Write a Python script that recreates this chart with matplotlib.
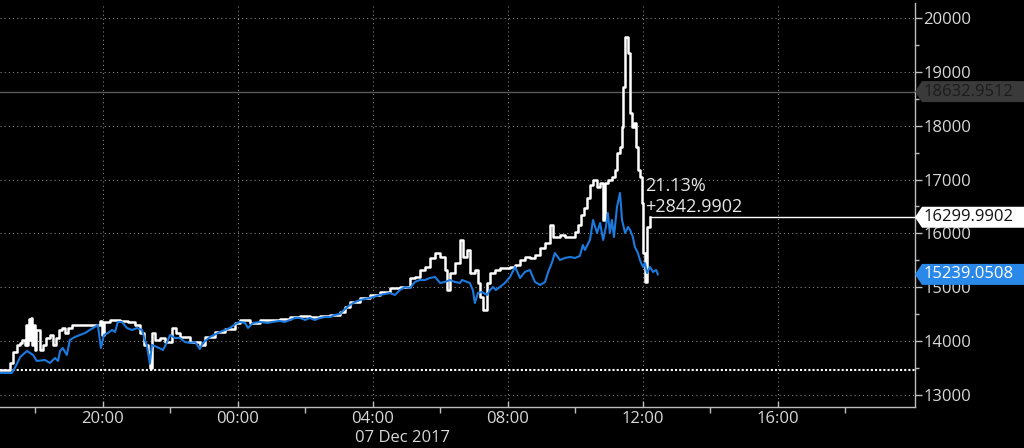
import matplotlib
matplotlib.use('Agg')
import matplotlib.pyplot as plt
from matplotlib.patches import Polygon
from matplotlib.transforms import IdentityTransform

plt.rcParams['font.family'] = ['Open Sans', 'DejaVu Sans']

# time in hours relative to 07 Dec 2017 00:00 (negative = 06 Dec)
price_t = [-7.05, -6.82, -6.76, -6.67, -6.55, -6.45, -6.40, -6.31, -6.28, -6.25, -6.22, -6.19, -6.16,
           -6.13, -6.10, -6.07, -6.04, -6.01, -5.99, -5.87, -5.78, -5.69, -5.57, -5.48, -5.39, -5.30,
           -5.22, -5.13, -5.04, -4.92, -4.09, -4.03, -3.97, -3.79, -3.50, -3.26, -3.05, -2.90, -2.79,
           -2.67, -2.61, -2.55, -2.46, -2.31, -2.16, -1.96, -1.84, -1.72, -1.42, -1.13, -0.98, -0.68,
           -0.39, -0.09, 0.06, 0.36, 0.65, 0.95, 1.24, 1.54, 1.84, 2.13, 2.43, 2.73, 3.02, 3.17, 3.32,
           3.62, 3.91, 4.21, 4.50, 4.80, 5.10, 5.24, 5.39, 5.54, 5.69, 5.84, 5.99, 6.13, 6.19, 6.28,
           6.43, 6.58, 6.67, 6.79, 6.87, 7.02, 7.11, 7.17, 7.26, 7.38, 7.47, 7.62, 7.76, 7.91, 8.06,
           8.21, 8.36, 8.50, 8.65, 8.80, 8.95, 9.10, 9.24, 9.33, 9.54, 9.69, 9.84, 9.99, 10.07, 10.16,
           10.25, 10.34, 10.43, 10.52, 10.64, 10.73, 10.82, 10.87, 10.96, 11.08, 11.17, 11.23, 11.32,
           11.38, 11.41, 11.47, 11.56, 11.62, 11.67, 11.73, 11.79, 11.85, 11.91, 11.97, 12.00, 12.06,
           12.12, 12.21]
price_v = [13457, 13457, 13594, 13799, 13929, 13966, 14021, 13929, 14300, 13929, 14207, 14411, 14021,
           14430, 13929, 14114, 14300, 13836, 14207, 13836, 13929, 14059, 14114, 13929, 14059, 14207,
           14244, 14151, 14244, 14300, 14374, 14114, 14356, 14393, 14374, 14356, 14300, 14151, 13929,
           13799, 13502, 14151, 14021, 14059, 13984, 14244, 14151, 14077, 13984, 13929, 14077, 14170,
           14226, 14337, 14393, 14337, 14393, 14393, 14411, 14448, 14467, 14448, 14467, 14486, 14541,
           14634, 14727, 14801, 14857, 14913, 14987, 15005, 15173, 15191, 15321, 15377, 15544, 15637,
           15562, 15321, 14950, 15265, 15451, 15878, 15562, 15692, 15265, 15321, 15080, 14820, 14580,
           15080, 15265, 15321, 15358, 15358, 15377, 15414, 15507, 15562, 15544, 15600, 15730, 15822,
           16157, 15934, 15971, 15934, 15934, 16027, 16157, 16342, 16472, 16658, 16899, 16992, 16862,
           16936, 16249, 16936, 16992, 17048, 17178, 17493, 17605, 17976, 18719, 19647, 19350, 18236,
           17976, 18050, 17605, 17178, 17048, 16565, 15637, 15098, 16119, 16300]

avg_t = [-7.05, -6.70, -6.61, -6.45, -6.25, -6.07, -5.96, -5.72, -5.57, -5.42, -5.33, -5.27, -5.19,
         -5.07, -4.98, -4.83, -4.68, -4.53, -4.39, -4.24, -4.15, -4.06, -3.97, -3.85, -3.73, -3.64,
         -3.56, -3.44, -3.29, -3.14, -2.99, -2.84, -2.76, -2.70, -2.61, -2.55, -2.40, -2.22, -2.10,
         -2.01, -1.87, -1.72, -1.57, -1.42, -1.27, -1.13, -1.04, -0.83, -0.53, -0.24, -0.03, 0.06,
         0.21, 0.30, 0.44, 0.65, 0.89, 1.01, 1.24, 1.39, 1.54, 1.69, 1.84, 1.99, 2.13, 2.28, 2.43,
         2.58, 2.73, 2.87, 3.02, 3.17, 3.32, 3.47, 3.62, 3.91, 4.21, 4.50, 4.65, 4.80, 4.95, 5.10,
         5.24, 5.39, 5.54, 5.69, 5.84, 5.99, 6.13, 6.28, 6.43, 6.58, 6.64, 6.79, 6.87, 6.96, 7.02,
         7.11, 7.23, 7.38, 7.47, 7.56, 7.64, 7.76, 7.91, 8.06, 8.21, 8.36, 8.50, 8.65, 8.80, 8.95,
         9.10, 9.19, 9.30, 9.39, 9.54, 9.69, 9.84, 9.99, 10.13, 10.22, 10.28, 10.43, 10.52, 10.64,
         10.73, 10.82, 10.90, 10.96, 11.02, 11.08, 11.14, 11.23, 11.32, 11.38, 11.47, 11.56, 11.62,
         11.70, 11.76, 11.85, 11.91, 12.00, 12.06, 12.12, 12.21, 12.30, 12.39, 12.44]
avg_v = [13409, 13409, 13502, 13706, 13817, 13743, 13632, 13650, 13594, 13687, 13632, 13817, 13873,
         13743, 14021, 14077, 14114, 14151, 14207, 14263, 14300, 13873, 14114, 14151, 14207, 14170,
         14356, 14356, 14244, 14207, 14244, 14207, 14021, 13929, 13580, 13929, 13891, 13836, 13984,
         14114, 14059, 14059, 13984, 13966, 13984, 13854, 13966, 14077, 14170, 14244, 14337, 14356,
         14337, 14244, 14337, 14356, 14337, 14356, 14374, 14356, 14393, 14430, 14430, 14393, 14430,
         14393, 14430, 14448, 14448, 14486, 14504, 14597, 14671, 14727, 14764, 14801, 14857, 14894,
         14857, 14950, 15005, 14987, 15098, 15135, 15135, 15173, 15191, 15080, 15098, 15135, 15098,
         15080, 15135, 15098, 15080, 14950, 14708, 14894, 14913, 14857, 14950, 15005, 14950, 15005,
         15080, 15191, 15377, 15173, 15284, 15321, 15098, 15043, 15098, 15284, 15451, 15637, 15507,
         15544, 15562, 15544, 15581, 15785, 15692, 15878, 16249, 16008, 16194, 15878, 16119, 16379,
         16008, 16249, 15934, 16491, 16751, 16249, 16008, 16119, 16064, 15934, 15748, 15637, 15507,
         15377, 15451, 15265, 15377, 15284, 15321, 15239]

open_level = 13457.0
last_price = 16299.9902
last_avg = 15239.0508
high_level = 18632.9512
change_pct = "21.13%"
change_abs = "+2842.9902"

x_ticks = [-4, 0, 4, 8, 12, 16]
x_minor = [-6, -2, 2, 6, 10, 14, 18]
x_labels = ['20:00', '00:00', '04:00', '08:00', '12:00', '16:00']
y_ticks = [13000, 14000, 15000, 16000, 17000, 18000, 19000, 20000]
y_minor = [13500, 14500, 15500, 16500, 17500, 18500, 19500]
date_label = '07 Dec 2017'

W, H = 1024, 448
fig = plt.figure(figsize=(W / 100, H / 100), dpi=100, facecolor='black')
ax = fig.add_axes([0, 1 - 407 / H, 915 / W, 404 / H])
ax.set_facecolor('black')

for s in ['left', 'top']:
    ax.spines[s].set_visible(False)
for s in ['right', 'bottom']:
    ax.spines[s].set_color('#bdbdbd')
    ax.spines[s].set_linewidth(1.0)

ax.yaxis.tick_right()
ax.set_yticks(y_ticks)
ax.set_yticklabels([str(v) for v in y_ticks])
ax.set_yticks(y_minor, minor=True)
ax.set_xticks(x_ticks)
ax.set_xticklabels(x_labels)
ax.set_xticks(x_minor, minor=True)
ax.set_xlim(-7.05, 20.06)
ax.set_ylim(12777, 20278)

ax.tick_params(axis='y', which='major', length=5, width=1, color='#bdbdbd',
               labelcolor='#d8d8d8', labelsize=12, pad=1, direction='out')
ax.tick_params(axis='y', which='minor', length=3, width=1, color='#bdbdbd', direction='out')
ax.tick_params(axis='x', which='major', length=4, width=1, color='#bdbdbd',
               labelcolor='#d8d8d8', labelsize=12, pad=3, direction='in')
ax.tick_params(axis='x', which='minor', length=4, width=1, color='#bdbdbd', direction='out')

ax.grid(which='major', color='#8a8a8a', linestyle=(0, (1, 3)), linewidth=0.75)

# reference / level lines
ax.axhline(open_level, color='white', linestyle=(0, (1, 1)), linewidth=1.5, zorder=2)
ax.axhline(high_level, color='#5a5a5a', linewidth=1.0, zorder=2)

ax.plot(price_t, price_v, color='white', linewidth=1.8, drawstyle='steps-post', zorder=3)
ax.plot(avg_t, avg_v, color='#1c7ade', linewidth=1.5, zorder=4)
ax.hlines(last_price, price_t[-1], ax.get_xlim()[1], color='white', linewidth=1.0, zorder=3)

fig.text(645 / W, 1 - 186 / H, change_pct, color='#e6e6e6', fontsize=13, ha='left', va='center')
fig.text(645 / W, 1 - 207 / H, change_abs, color='#e6e6e6', fontsize=13, ha='left', va='center')

fig.text(355 / W, 1 - 438 / H, date_label, color='#d8d8d8', fontsize=12, ha='left', va='center')


def tag(value, face, tcolor, text):
    fig.canvas.draw()
    y = ax.transData.transform((0, value))[1]
    x0 = ax.transAxes.transform((1, 0))[0]
    h = 10.5
    pts = [(x0, y), (x0 + 7, y + h), (W + 5, y + h), (W + 5, y - h), (x0 + 7, y - h)]
    poly = Polygon(pts, closed=True, facecolor=face, edgecolor='none',
                   transform=IdentityTransform(), zorder=5)
    fig.add_artist(poly)
    fig.text((x0 + 9) / W, y / H, text, color=tcolor, fontsize=12, ha='left', va='center', zorder=6)


tag(high_level, '#3a3a3a', '#1c1c1c', '18632.9512')
tag(last_price, 'white', '#111111', '16299.9902')
tag(last_avg, '#2a88e8', 'white', '15239.0508')

fig.savefig('out.png', dpi=100, facecolor='black')
